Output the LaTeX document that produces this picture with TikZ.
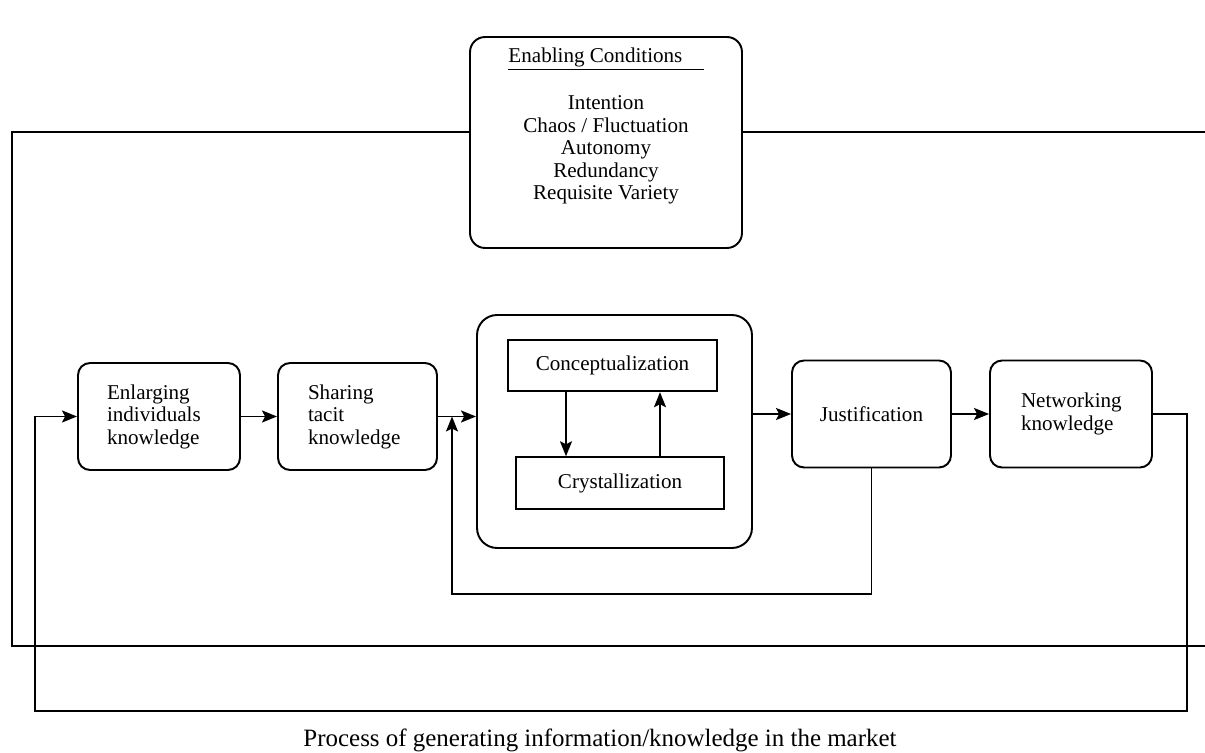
\documentclass[tikz,border=0pt]{standalone}
\usepackage{fontspec}
\setmainfont{Liberation Serif}
\usepackage{tikz}
\usetikzlibrary{arrows.meta,positioning}

\begin{document}
\begin{tikzpicture}[
    x=0.02cm, y=-0.02cm,
    font=\fontsize{12}{12.8}\selectfont,
    stage/.style={rectangle, draw, line width=1.1pt, rounded corners=0.24cm, minimum height=2.14cm, align=left},
    phase/.style={rectangle, draw, line width=1.1pt, minimum height=1.03cm},
    arrow/.style={-{Stealth[length=3mm,width=2.4mm,inset=0.6mm]}, line width=1.1pt},
    loopline/.style={line width=1.3pt}
]
    \useasboundingbox (0,0) rectangle (1205,753);

    % enabling conditions
    \node[draw, line width=1.1pt, rounded corners=0.3cm, minimum width=5.44cm, minimum height=4.22cm] (cond) at (606,142.5) {};
    \node[align=center] (condlist) at (606,126) {\underline{Enabling Conditions\quad}\\[1.2em]
        Intention\\Chaos / Fluctuation\\Autonomy\\Redundancy\\Requisite Variety};

    % knowledge creation steps
    \node[stage, minimum width=3.24cm, text width=2.08cm, inner xsep=0.58cm] (enl) at (159,416.5) {Enlarging\\individuals\\knowledge};
    \node[stage, minimum width=3.18cm, text width=1.98cm, inner xsep=0.6cm] (shr) at (357.5,416.5) {Sharing\\tacit\\knowledge};
    \node[draw, line width=1.1pt, rounded corners=0.4cm, minimum width=5.5cm, minimum height=4.66cm] (core) at (614.5,431.5) {};
    \node[phase, minimum width=4.18cm] (concept) at (612.5,365.5) {Conceptualization};
    \node[phase, minimum width=4.16cm] (crystal) at (620,483) {Crystallization};
    \node[stage, minimum width=3.18cm, align=center] (just) at (871.5,414) {Justification};
    \node[stage, minimum width=3.24cm, text width=2cm, inner xsep=0.62cm] (net) at (1071,414) {Networking\\knowledge};
    \coordinate (merge) at (452,416.5);

    \draw[arrow] (enl) -- (shr);
    \draw[arrow] (shr) -- (shr -| core.west);
    \draw[arrow] (concept.south -| 566,0) -- (crystal.north -| 566,0);
    \draw[arrow] (crystal.north -| 660,0) -- (concept.south -| 660,0);
    \draw[arrow] (core.east |- just.west) -- (just.west);
    \draw[arrow] (just) -- (net);

    % feedback loops
    \draw[arrow] (just.south) -- (just.south |- 0,594) -| (merge);
    \draw[arrow] (net.east) -| (1187,711) -- (35,711) |- (enl.west);
    \draw[loopline] (cond.west |- 0,132) -- (12,132) -- (12,646) -- (1205,646);
    \draw[loopline] (cond.east |- 0,132) -- (1205,132);

    \node[font=\fontsize{14.2}{16}\selectfont] (caption) at (600,740) {Process of generating information/knowledge in the market};
\end{tikzpicture}
\end{document}
